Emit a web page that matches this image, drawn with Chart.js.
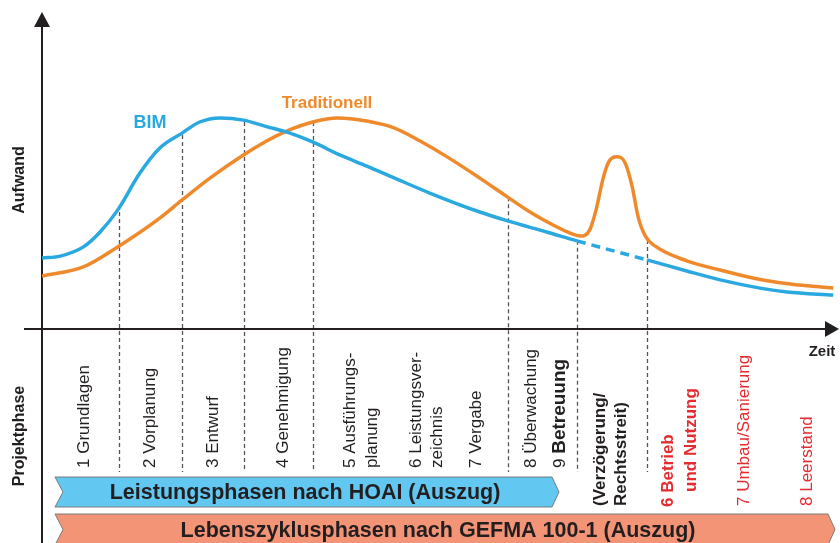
<!DOCTYPE html>
<html lang="de">
<head>
<meta charset="utf-8">
<title>Aufwand BIM / traditionell</title>
<script src="https://cdn.jsdelivr.net/npm/chart.js@4.4.0/dist/chart.umd.min.js"></script>
<style>
  html, body { margin: 0; background: #fff; }
  #wrap { width: 840px; height: 543px; position: relative; }
</style>
</head>
<body>
<div id="wrap"><canvas id="chart"></canvas></div>
<script>
// Aufwand über die Zeit (Zeit 0..100, Aufwand 0..100)
const bimZeit = [0, 2.3, 5.2, 7.3, 9.5, 12.3, 14.8, 17.6, 19.8, 22.4, 25.3, 28.0, 30.8, 34.0, 37.4, 40.8, 44.3, 48.7, 55.0, 58.5, 63.4, 67.2, 76.0, 81.0, 85.2, 90.2, 93.6, 99.4];
const bimAufwand = [22.4, 23.0, 25.9, 30.6, 37.5, 49.2, 57.1, 61.8, 65.3, 66.6, 65.9, 64.0, 62.1, 59.0, 54.9, 51.4, 47.6, 42.9, 36.9, 34.1, 30.6, 27.8, 21.8, 18.3, 15.5, 12.9, 11.7, 10.7];

const tradZeit = [0, 5.2, 9.5, 14.8, 17.6, 21.1, 25.3, 28.0, 30.8, 34.0, 37.1, 40.8, 44.3, 47.5, 50.9, 55.0, 58.5, 61.3, 64.2, 66.6, 67.6, 68.8, 69.6, 70.5, 71.2, 72.2, 73.2, 74.1, 74.9, 75.8, 77.0, 81.0, 85.2, 89.3, 94.0, 99.4];
const tradAufwand = [16.7, 19.6, 25.9, 35.0, 40.7, 47.6, 54.9, 59.0, 62.5, 65.3, 66.6, 65.6, 63.4, 59.3, 54.3, 47.6, 41.6, 36.9, 32.8, 30.0, 29.3, 31.2, 37.5, 47.6, 52.7, 54.3, 52.7, 45.4, 35.3, 29.3, 26.2, 21.5, 18.6, 16.1, 14.2, 12.9];

// Verzögerung: BIM-Verlauf dort nur gestrichelt
const bimLueckeVon = 67.2;
const bimLueckeBis = 76.0;

// Phasengrenzen und wo die Hilfslinie oben an der Kurve beginnt
const grenzenZeit = [9.7, 17.6, 25.4, 34.1, 58.5, 67.2, 76.0];
const grenzenOben = [36.9, 61.2, 65.3, 65.3, 41.6, 27.8, 28.1];

const hoaiPhasen = [
  ['1 Grundlagen'], ['2 Vorplanung'], ['3 Entwurf'], ['4 Genehmigung'],
  ['5 Ausführungs-', 'planung'], ['6 Leistungsver-', 'zeichnis'], ['7 Vergabe'],
  ['8 Überwachung']
];
const gefmaPhasen = ['6 Betrieb', 'und Nutzung', '7 Umbau/Sanierung', '8 Leerstand'];

const BLAU = '#2aa8e0';
const ORANGE = '#ef8a2c';
const ROT = '#e42b2f';
const TEXT = '#231f20';
const SANS = '"Liberation Sans", Arial, sans-serif';

function vText(ctx, text, x, y, font, color, align) {
  ctx.save();
  ctx.translate(x, y);
  ctx.rotate(-Math.PI / 2);
  ctx.font = font;
  ctx.fillStyle = color;
  ctx.textAlign = align || 'left';
  ctx.textBaseline = 'middle';
  ctx.fillText(text, 0, 0);
  ctx.restore();
}

function banner(ctx, x0, x1, top, bottom, fill) {
  const mid = (top + bottom) / 2;
  ctx.beginPath();
  ctx.moveTo(x0, top);
  ctx.lineTo(x1, top);
  ctx.lineTo(x1 + 7, mid);
  ctx.lineTo(x1, bottom);
  ctx.lineTo(x0, bottom);
  ctx.lineTo(x0 + 8, mid);
  ctx.closePath();
  ctx.fillStyle = fill;
  ctx.fill();
  ctx.lineWidth = 1;
  ctx.strokeStyle = '#7a7a7a';
  ctx.stroke();
}

const diagramm = {
  id: 'diagramm',
  beforeDatasetsDraw(chart) {
    const ctx = chart.ctx;
    const xs = chart.scales.x, ys = chart.scales.y;

    // gestrichelte Phasengrenzen
    ctx.save();
    ctx.strokeStyle = '#555';
    ctx.lineWidth = 1.3;
    ctx.setLineDash([4, 3]);
    grenzenZeit.forEach((t, i) => {
      const px = Math.round(xs.getPixelForValue(t)) + 0.5;
      ctx.beginPath();
      ctx.moveTo(px, ys.getPixelForValue(grenzenOben[i]));
      ctx.lineTo(px, 472);
      ctx.stroke();
    });
    ctx.restore();

    // Achsen mit Pfeilen
    ctx.save();
    ctx.strokeStyle = TEXT;
    ctx.fillStyle = TEXT;
    ctx.lineWidth = 2;
    const x0 = xs.getPixelForValue(0);
    const y0 = ys.getPixelForValue(0);
    ctx.beginPath();
    ctx.moveTo(x0, 26);
    ctx.lineTo(x0, 543);
    ctx.moveTo(24, y0);
    ctx.lineTo(826, y0);
    ctx.stroke();
    ctx.beginPath();
    ctx.moveTo(x0, 12); ctx.lineTo(x0 - 8, 27); ctx.lineTo(x0 + 8, 27);
    ctx.closePath(); ctx.fill();
    ctx.beginPath();
    ctx.moveTo(839, y0); ctx.lineTo(825, y0 - 8); ctx.lineTo(825, y0 + 8);
    ctx.closePath(); ctx.fill();
    ctx.restore();
  },
  afterDraw(chart) {
    const ctx = chart.ctx;

    // Kurvenbeschriftung
    ctx.save();
    ctx.textAlign = 'center';
    ctx.textBaseline = 'middle';
    ctx.font = 'bold 18px ' + SANS;
    ctx.fillStyle = BLAU;
    ctx.fillText('BIM', 150, 123);
    ctx.font = 'bold 17px ' + SANS;
    ctx.fillStyle = ORANGE;
    ctx.fillText('Traditionell', 327, 103);
    ctx.fillStyle = TEXT;
    ctx.font = 'bold 15px ' + SANS;
    ctx.fillText('Zeit', 822, 352);
    ctx.restore();

    vText(ctx, 'Aufwand', 20, 180, 'bold 16px ' + SANS, TEXT, 'center');
    vText(ctx, 'Projektphase', 20, 436, 'bold 16px ' + SANS, TEXT, 'center');

    // Leistungsphasen HOAI
    const reg = '17px ' + SANS;
    const spalten = [[84], [150], [213], [283], [350, 372], [416, 437], [476], [531]];
    hoaiPhasen.forEach((zeilen, i) => {
      zeilen.forEach((z, j) => vText(ctx, z, spalten[i][j], 468, reg, TEXT));
    });
    ctx.save();
    ctx.font = reg;
    const w9 = ctx.measureText('9 ').width;
    ctx.restore();
    vText(ctx, '9 ', 560, 468, reg, TEXT);
    vText(ctx, 'Betreuung', 560, 468 - w9, 'bold 19px ' + SANS, TEXT);

    vText(ctx, '(Verzögerung/', 600, 506, 'bold 17px ' + SANS, TEXT);
    vText(ctx, 'Rechtsstreit)', 621, 506, 'bold 17px ' + SANS, TEXT);

    // Lebenszyklusphasen GEFMA
    vText(ctx, gefmaPhasen[0], 668, 507, 'bold 17px ' + SANS, ROT);
    vText(ctx, gefmaPhasen[1], 691, 492, 'bold 17px ' + SANS, ROT);
    vText(ctx, gefmaPhasen[2], 744, 506, reg, ROT);
    vText(ctx, gefmaPhasen[3], 807, 506, reg, ROT);

    // Balken
    banner(ctx, 55, 552, 477, 507, '#62c7f1');
    banner(ctx, 55, 828, 514, 545, '#f39477');
    ctx.save();
    ctx.fillStyle = TEXT;
    ctx.font = 'bold 21.5px ' + SANS;
    ctx.textAlign = 'center';
    ctx.textBaseline = 'middle';
    ctx.fillText('Leistungsphasen nach HOAI (Auszug)', 305, 493);
    ctx.fillText('Lebenszyklusphasen nach GEFMA 100-1 (Auszug)', 438, 531);
    ctx.restore();
  }
};

new Chart(document.getElementById('chart'), {
  type: 'line',
  data: {
    datasets: [{
      label: 'BIM',
      data: bimZeit.map((t, i) => ({ x: t, y: bimAufwand[i] })),
      borderColor: BLAU,
      borderWidth: 3.5,
      pointRadius: 0,
      cubicInterpolationMode: 'monotone',
      segment: {
        borderDash: c => (bimZeit[c.p0DataIndex] >= bimLueckeVon && bimZeit[c.p1DataIndex] <= bimLueckeBis) ? [9, 6] : undefined
      }
    }, {
      label: 'Traditionell',
      data: tradZeit.map((t, i) => ({ x: t, y: tradAufwand[i] })),
      borderColor: ORANGE,
      borderWidth: 3.5,
      pointRadius: 0,
      cubicInterpolationMode: 'monotone'
    }]
  },
  options: {
    responsive: true,
    maintainAspectRatio: false,
    animation: false,
    layout: { padding: { left: 42, right: 2, top: 12, bottom: 214 } },
    scales: {
      x: { type: 'linear', min: 0, max: 100, display: false },
      y: { min: 0, max: 100, display: false }
    },
    plugins: { legend: { display: false }, tooltip: { enabled: false } }
  },
  plugins: [diagramm]
});
</script>
</body>
</html>
